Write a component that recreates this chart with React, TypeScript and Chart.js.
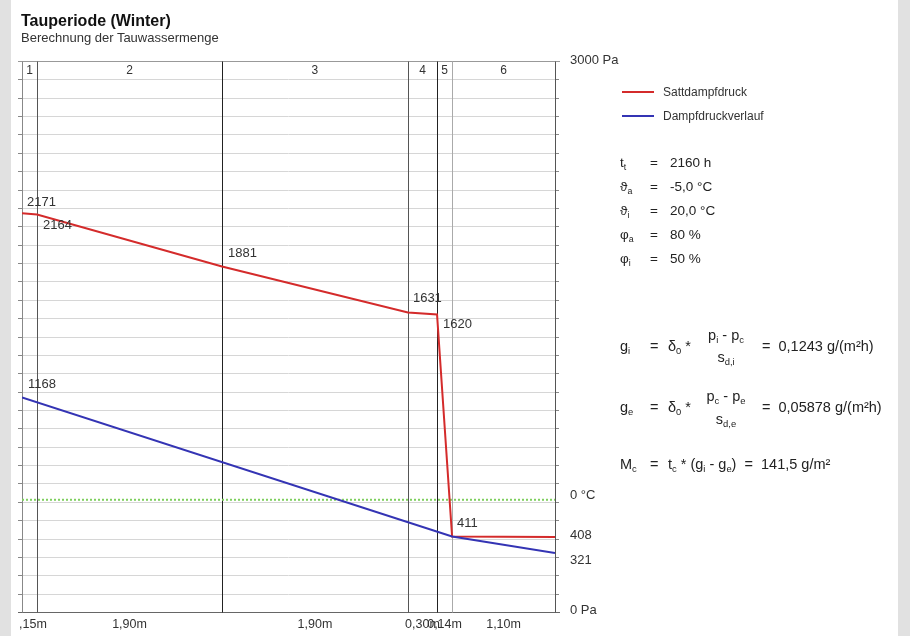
import React, { useEffect, useRef } from "react";
import { Chart, registerables } from "chart.js";

Chart.register(...registerables);

// ---------------- data ----------------
const layerNumbers = ["1", "2", "3", "4", "5", "6"];
// diffusion-equivalent thickness sd of each layer (m)
const layerSd = [0.155, 1.905, 1.915, 0.3, 0.155, 1.06];
const layerSdLabels = ["0,15m", "1,90m", "1,90m", "0,30m", "0,14m", "1,10m"];
// saturation vapour pressure at each layer boundary (Pa)
const saturationPressure = [2171, 2164, 1881, 1631, 1620, 411, 408];
const saturationLabels = ["2171", "2164", "1881", "1631", "1620", "411"];
// vapour pressure course: boundary index -> value (Pa)
const vaporBoundaryIndex = [0, 5, 6];
const vaporPressure = [1168, 411, 321];
const vaporLabels = ["1168"];
const zeroCelsiusPressure = 611;
const pressureMax = 3000;
const gridStep = 100;
const rightTickValues = [3000, 611, 408, 321, 0];
const rightTickLabels = ["3000 Pa", "0 °C", "408", "321", "0 Pa"];
const legendLabels = ["Sattdampfdruck", "Dampfdruckverlauf"];
const paramSymbols = [
  ["t", "t"],
  ["ϑ", "a"],
  ["ϑ", "i"],
  ["φ", "a"],
  ["φ", "i"],
];
const paramValues = ["2160 h", "-5,0 °C", "20,0 °C", "80 %", "50 %"];
const flowValues = ["0,1243 g/(m²h)", "0,05878 g/(m²h)"];
const condensateValue = "141,5 g/m²";

// ---------------- styles ----------------
const FONT = "Arial, 'Liberation Sans', Helvetica, sans-serif";
const RED = "#d42b2b";
const BLUE = "#3434b4";
const GREEN = "#7fcf5f";
const boundaryColors = ["#888", "#555", "#222", "#555", "#222", "#aaa", "#555"];
const satLabelOffsets = [
  [5, -11],
  [6, 11],
  [6, -13],
  [5, -14],
  [6, 10],
  [5, -13],
];
const vaporLabelOffsets = [[6, -13]];
const rightLabelOffsets = [-1, -4, -2, 7, -2];

const boundaries: number[] = layerSd.reduce(
  (acc: number[], w) => {
    acc.push(acc[acc.length - 1] + w);
    return acc;
  },
  [0]
);
const totalSd = boundaries[boundaries.length - 1];

function T(props: any) {
  const size = props.size || 12;
  return (
    <span
      style={{
        position: "absolute",
        left: props.x,
        top: props.y - size * 0.6,
        fontSize: size,
        lineHeight: `${size * 1.2}px`,
        whiteSpace: "pre",
        color: props.color || "#222",
        fontWeight: props.bold ? "bold" : "normal",
        fontFamily: FONT,
        transform: props.center ? "translateX(-50%)" : undefined,
      }}
    >
      {props.children}
    </span>
  );
}

function Sub(props: any) {
  return (
    <sub style={{ fontSize: "0.65em", verticalAlign: "-0.35em", lineHeight: 0 }}>
      {props.children}
    </sub>
  );
}

export default function App() {
  const ref = useRef<HTMLCanvasElement>(null);

  useEffect(() => {
    const canvas = ref.current;
    if (!canvas) return;

    const decor = {
      id: "decor",
      beforeDatasetsDraw(chart: any) {
        const { ctx, chartArea: a } = chart;
        const x = chart.scales.x;
        const y = chart.scales.y;
        const line = (x1: number, y1: number, x2: number, y2: number) => {
          ctx.beginPath();
          ctx.moveTo(x1, y1);
          ctx.lineTo(x2, y2);
          ctx.stroke();
        };
        ctx.save();
        ctx.lineWidth = 1;
        for (let v = gridStep; v < pressureMax; v += gridStep) {
          const py = Math.round(y.getPixelForValue(v)) + 0.5;
          ctx.strokeStyle = "#d6d6d6";
          line(a.left, py, a.right, py);
          ctx.strokeStyle = "#888";
          line(a.left - 4, py, a.left, py);
          line(a.right, py, a.right + 4, py);
        }
        const top = Math.round(y.getPixelForValue(pressureMax)) + 0.5;
        const bottom = Math.round(y.getPixelForValue(0)) + 0.5;
        ctx.strokeStyle = "#999";
        line(a.left - 4, top, a.right + 5, top);
        ctx.strokeStyle = "#666";
        line(a.left - 4, bottom, a.right + 5, bottom);
        // layer boundaries
        boundaries.forEach((b, i) => {
          const px = Math.round(x.getPixelForValue(b)) + 0.5;
          ctx.strokeStyle = boundaryColors[i];
          line(px, top, px, bottom);
        });
        // layer numbers and sd labels
        ctx.fillStyle = "#333";
        ctx.textAlign = "center";
        ctx.textBaseline = "middle";
        ctx.font = `12px ${FONT}`;
        layerNumbers.forEach((n, i) => {
          const mid = x.getPixelForValue((boundaries[i] + boundaries[i + 1]) / 2);
          ctx.fillText(n, mid, top + 9);
        });
        ctx.save();
        ctx.beginPath();
        ctx.rect(19, 0, 2000, 2000);
        ctx.clip();
        ctx.font = `12.5px ${FONT}`;
        layerSdLabels.forEach((n, i) => {
          const mid = x.getPixelForValue((boundaries[i] + boundaries[i + 1]) / 2);
          ctx.fillText(n, mid, bottom + 12);
        });
        ctx.restore();
        // right axis labels
        ctx.textAlign = "left";
        ctx.font = `13px ${FONT}`;
        rightTickValues.forEach((v, i) => {
          ctx.fillText(rightTickLabels[i], a.right + 15, y.getPixelForValue(v) + rightLabelOffsets[i]);
        });
        ctx.restore();
      },
      afterDatasetsDraw(chart: any) {
        const { ctx } = chart;
        const x = chart.scales.x;
        const y = chart.scales.y;
        ctx.save();
        ctx.fillStyle = "#333";
        ctx.textAlign = "left";
        ctx.textBaseline = "middle";
        ctx.font = `13px ${FONT}`;
        saturationLabels.forEach((t, i) => {
          const px = x.getPixelForValue(boundaries[i]);
          const py = y.getPixelForValue(saturationPressure[i]);
          ctx.fillText(t, px + satLabelOffsets[i][0], py + satLabelOffsets[i][1]);
        });
        vaporLabels.forEach((t, i) => {
          const px = x.getPixelForValue(boundaries[vaporBoundaryIndex[i]]);
          const py = y.getPixelForValue(vaporPressure[i]);
          ctx.fillText(t, px + vaporLabelOffsets[i][0], py + vaporLabelOffsets[i][1]);
        });
        ctx.restore();
      },
    };

    const chart = new Chart(canvas, {
      type: "line",
      data: {
        datasets: [
          {
            label: legendLabels[1],
            data: vaporPressure.map((v, i) => ({ x: boundaries[vaporBoundaryIndex[i]], y: v })),
            borderColor: BLUE,
            borderWidth: 2,
            pointRadius: 0,
          },
          {
            label: legendLabels[0],
            data: saturationPressure.map((v, i) => ({ x: boundaries[i], y: v })),
            borderColor: RED,
            borderWidth: 2,
            pointRadius: 0,
          },
          {
            label: "0 °C",
            data: [
              { x: 0, y: zeroCelsiusPressure },
              { x: totalSd, y: zeroCelsiusPressure },
            ],
            borderColor: GREEN,
            borderWidth: 2,
            borderDash: [2, 2],
            pointRadius: 0,
          },
        ],
      },
      options: {
        animation: false,
        responsive: false,
        maintainAspectRatio: false,
        layout: { padding: { left: 22, top: 61, right: 355, bottom: 24 } },
        plugins: { legend: { display: false }, tooltip: { enabled: false } },
        scales: {
          x: { type: "linear", min: 0, max: totalSd, display: false },
          y: { type: "linear", min: 0, max: pressureMax, display: false },
        },
      } as any,
      plugins: [decor],
    });
    return () => chart.destroy();
  }, []);

  const F = 14.5;
  return (
    <div
      style={{
        position: "fixed",
        left: 0,
        top: 0,
        width: 910,
        height: 636,
        background: "#fff",
        overflow: "hidden",
        fontFamily: FONT,
      }}
    >
      <div style={{ position: "absolute", left: 0, top: 0, width: 11, height: 636, background: "#e1e1e1" }} />
      <div style={{ position: "absolute", left: 898, top: 0, width: 12, height: 636, background: "#e1e1e1" }} />
      <canvas
        ref={ref}
        width={910}
        height={636}
        style={{ position: "absolute", left: 0, top: 0, width: 910, height: 636 }}
      />
      <T x={21} y={21} size={16} bold color="#111">
        Tauperiode (Winter)
      </T>
      <T x={21} y={38} size={13} color="#333">
        Berechnung der Tauwassermenge
      </T>

      {/* legend */}
      <div style={{ position: "absolute", left: 622, top: 91, width: 32, height: 2, background: RED }} />
      <T x={663} y={92} size={12} color="#333">
        {legendLabels[0]}
      </T>
      <div style={{ position: "absolute", left: 622, top: 115, width: 32, height: 2, background: BLUE }} />
      <T x={663} y={116} size={12} color="#333">
        {legendLabels[1]}
      </T>

      {/* parameters */}
      {paramSymbols.map((s, i) => (
        <React.Fragment key={i}>
          <T x={620} y={163 + i * 24} size={13.5}>
            {s[0]}
            <Sub>{s[1]}</Sub>
          </T>
          <T x={650} y={163 + i * 24} size={13.5}>
            =
          </T>
          <T x={670} y={163 + i * 24} size={13.5}>
            {paramValues[i]}
          </T>
        </React.Fragment>
      ))}

      {/* g_i */}
      <T x={620} y={347} size={F}>
        g<Sub>i</Sub>
      </T>
      <T x={650} y={347} size={F}>=</T>
      <T x={668} y={347} size={F}>
        δ<Sub>0</Sub> *
      </T>
      <T x={726} y={336} size={F} center>
        p<Sub>i</Sub> - p<Sub>c</Sub>
      </T>
      <T x={726} y={358} size={F} center>
        s<Sub>d,i</Sub>
      </T>
      <T x={762} y={347} size={F}>
        {"=  " + flowValues[0]}
      </T>

      {/* g_e */}
      <T x={620} y={408} size={F}>
        g<Sub>e</Sub>
      </T>
      <T x={650} y={408} size={F}>=</T>
      <T x={668} y={408} size={F}>
        δ<Sub>0</Sub> *
      </T>
      <T x={726} y={397} size={F} center>
        p<Sub>c</Sub> - p<Sub>e</Sub>
      </T>
      <T x={726} y={420} size={F} center>
        s<Sub>d,e</Sub>
      </T>
      <T x={762} y={408} size={F}>
        {"=  " + flowValues[1]}
      </T>

      {/* M_c */}
      <T x={620} y={465} size={F}>
        M<Sub>c</Sub>
      </T>
      <T x={650} y={465} size={F}>=</T>
      <T x={668} y={465} size={F}>
        t<Sub>c</Sub> * (g<Sub>i</Sub> - g<Sub>e</Sub>) {" =  " + condensateValue}
      </T>
    </div>
  );
}
